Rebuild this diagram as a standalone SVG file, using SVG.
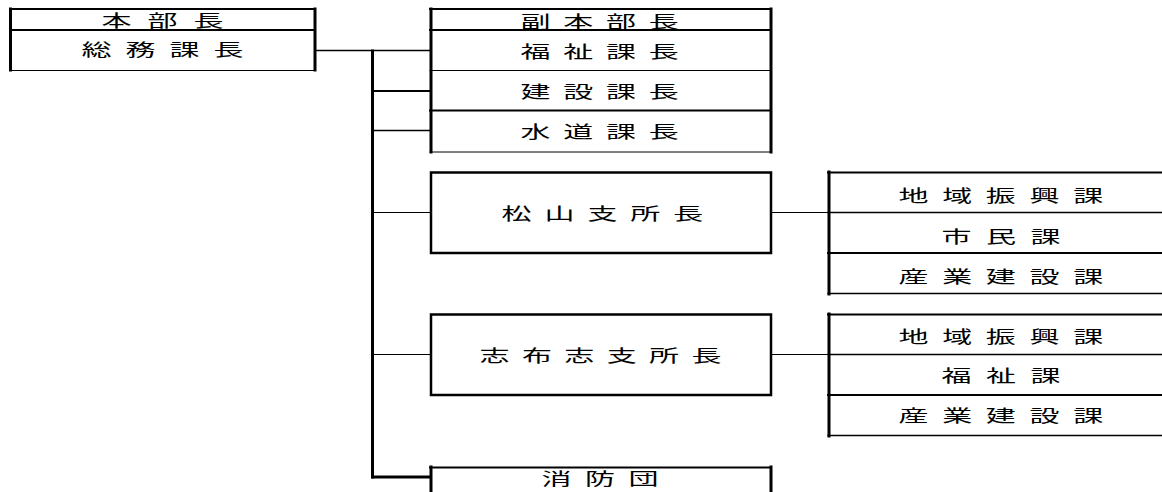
<svg xmlns="http://www.w3.org/2000/svg" width="1162" height="492" viewBox="0 0 1162 492">
<style>
text{font-family:"Noto Sans CJK JP","Noto Sans CJK SC",sans-serif;font-size:16.5px;fill:#000;letter-spacing:7.5px}
line{stroke:#000;stroke-linecap:square}
.t1{stroke-width:1}
.t15{stroke-width:1.5}
.t2{stroke-width:2}
.t3{stroke-width:3}
</style>
<rect x="0" y="0" width="1162" height="492" fill="#fff"/>
<g id="connectors">
<line class="t15" x1="316" y1="50.5" x2="430" y2="50.5"/>
<line class="t3" x1="372.5" y1="51" x2="372.5" y2="477"/>
<line class="t2" x1="373" y1="91" x2="430" y2="91"/>
<line class="t15" x1="373" y1="130.5" x2="430" y2="130.5"/>
<line class="t1" x1="373" y1="212.5" x2="430" y2="212.5"/>
<line class="t1" x1="373" y1="354.5" x2="430" y2="354.5"/>
<line class="t3" x1="373" y1="477" x2="430" y2="477"/>
<line class="t1" x1="772" y1="212.5" x2="828" y2="212.5"/>
<line class="t1" x1="772" y1="354.5" x2="828" y2="354.5"/>
</g>
<g id="honbucho">
<line class="t2" x1="10" y1="9" x2="315" y2="9"/>
<line class="t2" x1="10" y1="30" x2="315" y2="30"/>
<line class="t1" x1="10" y1="70.5" x2="315" y2="70.5"/>
<line class="t3" x1="10.5" y1="9" x2="10.5" y2="70"/>
<line class="t3" x1="315" y1="9" x2="315" y2="70"/>
<text transform="matrix(1.82,0,0,1,101.5,27)" style="letter-spacing:8.8px">本部長</text>
<text transform="matrix(1.82,0,0,1,81.5,56)" style="letter-spacing:7.7px">総務課長</text>
</g>
<g id="fukuhonbucho">
<line class="t2" x1="430" y1="9" x2="771" y2="9"/>
<line class="t2" x1="430" y1="30" x2="771" y2="30"/>
<line class="t1" x1="430" y1="70.5" x2="771" y2="70.5"/>
<line class="t2" x1="430" y1="110.5" x2="771" y2="110.5"/>
<line class="t1" x1="430" y1="152" x2="771" y2="152"/>
<line class="t3" x1="431" y1="9" x2="431" y2="152"/>
<line class="t3" x1="771" y1="9" x2="771" y2="152"/>
<text transform="matrix(1.82,0,0,1,520.5,27.5)" style="letter-spacing:7px">副本部長</text>
<text transform="matrix(1.82,0,0,1,520.5,58)" style="letter-spacing:7px">福祉課長</text>
<text transform="matrix(1.82,0,0,1,520.5,98)" style="letter-spacing:7px">建設課長</text>
<text transform="matrix(1.82,0,0,1,520.5,138)" style="letter-spacing:7px">水道課長</text>
</g>
<g id="matsuyama">
<rect x="431" y="172.5" width="340" height="80.5" fill="none" stroke="#000" stroke-width="2.5"/>
<text transform="matrix(1.82,0,0,1,501.5,219.5)" style="letter-spacing:7.1px">松山支所長</text>
</g>
<g id="matsuyama-ka">
<line class="t2" x1="828" y1="172.5" x2="1162" y2="172.5"/>
<line class="t15" x1="828" y1="212.5" x2="1162" y2="212.5"/>
<line class="t2" x1="828" y1="253" x2="1162" y2="253"/>
<line class="t15" x1="828" y1="293.5" x2="1162" y2="293.5"/>
<line class="t3" x1="829" y1="172" x2="829" y2="294"/>
<text transform="matrix(1.82,0,0,1,898.5,201.5)" style="letter-spacing:7.5px">地域振興課</text>
<text transform="matrix(1.82,0,0,1,941.5,242.5)" style="letter-spacing:7.95px">市民課</text>
<text transform="matrix(1.82,0,0,1,898.5,283)" style="letter-spacing:7.5px">産業建設課</text>
</g>
<g id="shibushi">
<rect x="431" y="314.5" width="340" height="80.5" fill="none" stroke="#000" stroke-width="2.5"/>
<text transform="matrix(1.82,0,0,1,479.5,361.5)" style="letter-spacing:6.8px">志布志支所長</text>
</g>
<g id="shibushi-ka">
<line class="t2" x1="828" y1="314.5" x2="1162" y2="314.5"/>
<line class="t15" x1="828" y1="354.5" x2="1162" y2="354.5"/>
<line class="t2" x1="828" y1="395" x2="1162" y2="395"/>
<line class="t15" x1="828" y1="435.5" x2="1162" y2="435.5"/>
<line class="t3" x1="829" y1="314" x2="829" y2="436"/>
<text transform="matrix(1.82,0,0,1,898.5,342.5)" style="letter-spacing:7.5px">地域振興課</text>
<text transform="matrix(1.82,0,0,1,941.5,381.5)" style="letter-spacing:7.95px">福祉課</text>
<text transform="matrix(1.82,0,0,1,898.5,422)" style="letter-spacing:7.5px">産業建設課</text>
</g>
<g id="shobodan">
<line class="t2" x1="430" y1="467.5" x2="771" y2="467.5"/>
<line class="t3" x1="431" y1="467" x2="431" y2="492"/>
<line class="t3" x1="771" y1="467" x2="771" y2="492"/>
<text transform="matrix(1.82,0,0,1,541.5,485)" style="letter-spacing:7.4px">消防団</text>
</g>
</svg>
